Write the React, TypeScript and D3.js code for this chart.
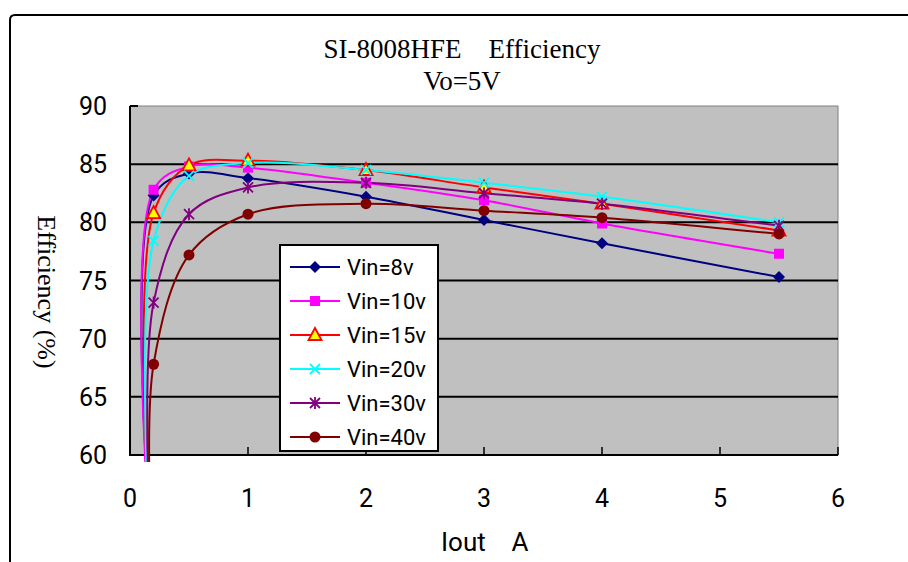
import * as d3 from "d3"

// Output current (A) at each measured point
const iout = [0.2, 0.5, 1, 2, 3, 4, 5.5]

// Efficiency (%) per input voltage
const vin8 = [82.3, 84.2, 83.8, 82.2, 80.2, 78.2, 75.3]
const vin10 = [82.8, 84.8, 84.7, 83.4, 81.9, 79.9, 77.3]
const vin15 = [80.8, 84.9, 85.3, 84.5, 83.0, 81.6, 79.3]
const vin20 = [78.4, 84.0, 85.1, 84.5, 83.4, 82.2, 80.0]
const vin30 = [73.1, 80.7, 83.0, 83.4, 82.5, 81.6, 79.7]
const vin40 = [67.8, 77.2, 80.7, 81.6, 81.0, 80.4, 79.0]

// light-load start point of each curve (falls below the axis)
const startIout = [0.155, 0.15, 0.155, 0.15, 0.16, 0.17]
const startEff = [56, 56, 56, 56, 56, 56]

const seriesNames = ["Vin=8v", "Vin=10v", "Vin=15v", "Vin=20v", "Vin=30v", "Vin=40v"]
const seriesValues = [vin8, vin10, vin15, vin20, vin30, vin40]
const seriesColors = ["#000080", "#ff00ff", "#ff0000", "#00ffff", "#800080", "#800000"]
const markerTypes = ["diamond", "square", "triangle", "x", "star", "circle"]

const xTicks = [0, 1, 2, 3, 4, 5, 6]
const yTicks = [60, 65, 70, 75, 80, 85, 90]

const W = 908
const H = 562
const margin = { top: 106, right: 70, bottom: 107, left: 130 }

function Marker({ type, x, y, color }: { type: string; x: number; y: number; color: string }) {
  if (type === "diamond")
    return <path d={`M${x},${y - 6}L${x + 6},${y}L${x},${y + 6}L${x - 6},${y}Z`} fill={color} />
  if (type === "square")
    return <rect x={x - 5} y={y - 5} width={10} height={10} fill={color} />
  if (type === "triangle")
    return (
      <path
        d={`M${x},${y - 7}L${x + 6.5},${y + 5}L${x - 6.5},${y + 5}Z`}
        fill="#ffff00"
        stroke={color}
        strokeWidth={1.8}
      />
    )
  if (type === "x")
    return (
      <path
        d={`M${x - 5},${y - 5}L${x + 5},${y + 5}M${x - 5},${y + 5}L${x + 5},${y - 5}`}
        stroke={color}
        strokeWidth={1.8}
      />
    )
  if (type === "star")
    return (
      <path
        d={`M${x - 5},${y - 5}L${x + 5},${y + 5}M${x - 5},${y + 5}L${x + 5},${y - 5}M${x},${y - 6}L${x},${y + 6}`}
        stroke={color}
        strokeWidth={1.8}
      />
    )
  return <circle cx={x} cy={y} r={5.5} fill={color} />
}

export default function App() {
  const innerW = W - margin.left - margin.right
  const innerH = H - margin.top - margin.bottom
  const x = d3.scaleLinear().domain([0, 6]).range([margin.left, margin.left + innerW])
  const y = d3.scaleLinear().domain([60, 90]).range([margin.top + innerH, margin.top])

  const line = d3
    .line<[number, number]>()
    .x((d) => x(d[0]))
    .y((d) => y(d[1]))
    .curve(d3.curveCatmullRom.alpha(0.5))

  const numFont = "Roboto, 'DejaVu Sans', sans-serif"
  const serif = "'Liberation Serif', 'DejaVu Serif', serif"

  const legendX = 280
  const legendY = 245
  const legendRow = 34

  return (
    <svg
      width={W}
      height={H}
      style={{ position: "absolute", left: 0, top: 0, background: "#fff" }}
    >
      <defs>
        <clipPath id="plot-clip">
          <rect x={margin.left} y={margin.top} width={innerW} height={innerH + 7} />
        </clipPath>
      </defs>

      {/* chart frame */}
      <path d={`M10,${H}L10,20Q10,15 15,15L${W},15`} fill="none" stroke="#000" strokeWidth={2} />

      {/* titles */}
      <text x={462} y={58} textAnchor="middle" fontFamily={serif} fontSize={27}>
        {"SI-8008HFE\u00a0\u00a0\u00a0\u00a0Efficiency"}
      </text>
      <text x={462} y={90} textAnchor="middle" fontFamily={serif} fontSize={27}>
        Vo=5V
      </text>

      {/* plot area */}
      <rect
        x={margin.left}
        y={margin.top}
        width={innerW}
        height={innerH}
        fill="#c0c0c0"
        stroke="#808080"
        strokeWidth={1}
      />
      {yTicks.slice(1, -1).map((t) => (
        <line
          key={t}
          x1={margin.left}
          x2={margin.left + innerW}
          y1={y(t)}
          y2={y(t)}
          stroke="#000"
          strokeWidth={2}
        />
      ))}
      {/* inside ticks */}
      <line x1={margin.left} x2={margin.left + 8} y1={y(90)} y2={y(90)} stroke="#000" strokeWidth={2} />
      {xTicks.slice(1).map((t) => (
        <line key={t} x1={x(t)} x2={x(t)} y1={y(60)} y2={y(60) - 8} stroke="#000" strokeWidth={1.5} />
      ))}
      {/* axes */}
      <line x1={margin.left} x2={margin.left} y1={margin.top} y2={y(60) + 1} stroke="#000" strokeWidth={2} />
      <line x1={margin.left} x2={margin.left + innerW} y1={y(60)} y2={y(60)} stroke="#000" strokeWidth={2} />

      {/* tick labels */}
      {yTicks.map((t) => (
        <text key={t} x={107} y={y(t) + 9} textAnchor="end" fontFamily={numFont} fontSize={25}>
          {t}
        </text>
      ))}
      {xTicks.map((t) => (
        <text key={t} x={x(t)} y={507} textAnchor="middle" fontFamily={numFont} fontSize={25}>
          {t}
        </text>
      ))}

      {/* axis titles */}
      <text x={441} y={551} fontFamily={numFont} fontSize={26}>
        Iout
      </text>
      <text x={520} y={551} textAnchor="middle" fontFamily={numFont} fontSize={26}>
        A
      </text>
      <text
        transform={`translate(38,292) rotate(90)`}
        textAnchor="middle"
        fontFamily={serif}
        fontSize={26}
      >
        Efficiency (%)
      </text>

      {/* series */}
      <g clipPath="url(#plot-clip)">
        {seriesValues.map((vals, i) => {
          const pts: [number, number][] = [
            [startIout[i], startEff[i]],
            ...iout.map((v, j) => [v, vals[j]] as [number, number]),
          ]
          return (
            <path key={i} d={line(pts) ?? ""} fill="none" stroke={seriesColors[i]} strokeWidth={2} />
          )
        })}
      </g>
      {seriesValues.map((vals, i) => (
        <g key={i}>
          {iout.map((v, j) => (
            <Marker key={j} type={markerTypes[i]} x={x(v)} y={y(vals[j])} color={seriesColors[i]} />
          ))}
        </g>
      ))}

      {/* legend */}
      <rect x={legendX} y={legendY} width={158} height={206} fill="#fff" stroke="#000" strokeWidth={2} />
      {seriesNames.map((name, i) => {
        const cy = legendY + 22 + i * legendRow
        return (
          <g key={name}>
            <line x1={290} x2={340} y1={cy} y2={cy} stroke={seriesColors[i]} strokeWidth={2} />
            <Marker type={markerTypes[i]} x={315} y={cy} color={seriesColors[i]} />
            <text x={347} y={cy + 8} fontFamily={numFont} fontSize={22}>
              {name}
            </text>
          </g>
        )
      })}
    </svg>
  )
}
